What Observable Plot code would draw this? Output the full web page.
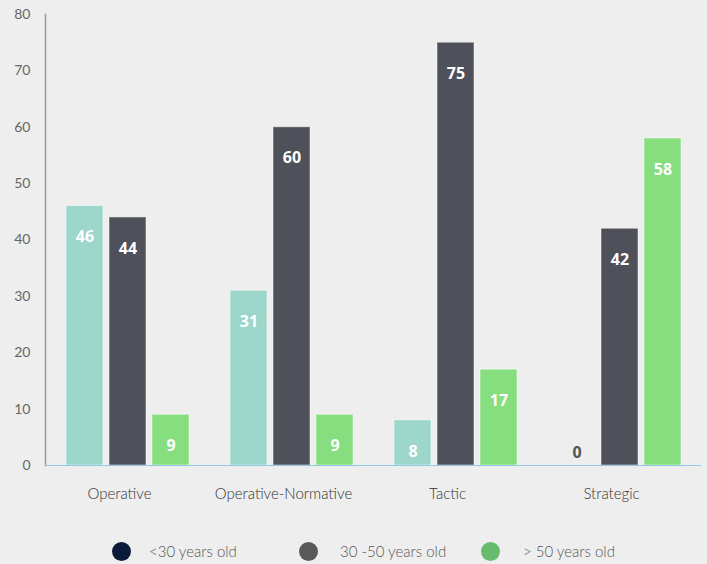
<!DOCTYPE html>
<html>
<head>
<meta charset="utf-8">
<script src="https://cdn.jsdelivr.net/npm/d3@7"></script>
<script src="https://cdn.jsdelivr.net/npm/@observablehq/plot@0.6"></script>
<style>
  html, body { margin: 0; padding: 0; background: #eeeeee; }
  #chart { width: 707px; }
  .legend { display: flex; align-items: center; box-sizing: border-box; height: 44px; padding-top: 18px; padding-left: 112px; font-family: Lato, "Open Sans", sans-serif; font-size: 15px; color: #555; font-weight: 300; }
  .legend .dot { width: 19px; height: 19px; border-radius: 50%; display: inline-block; flex: none; }
  .legend .lab { display: inline-block; white-space: nowrap; }
</style>
</head>
<body>
<div id="chart"></div>
<script>
const categories = ["Operative", "Operative-Normative", "Tactic", "Strategic"];
const series = ["<30 years old", "30 -50 years old", "> 50 years old"];
const under30 = [46, 31, 8, 0];
const from30to50 = [44, 60, 75, 42];
const over50 = [9, 9, 17, 58];
const yTicks = [0, 10, 20, 30, 40, 50, 60, 70, 80];
const barColors = ["#9dd6ca", "#4e5159", "#86de7e"];
const legendColors = ["#0c1a3a", "#58595b", "#66bb6e"];

const seriesValues = [under30, from30to50, over50];
const data = [];
categories.forEach((cat, i) => {
  series.forEach((s, j) => {
    data.push({cat, series: s, value: seriesValues[j][i]});
  });
});

const valueStyle = {fx: "cat", x: "series", y: "value", text: d => String(d.value),
  fontSize: 16, fontWeight: "bold", fontFamily: "'Open Sans', sans-serif"};

const chart = Plot.plot({
  width: 707,
  height: 520,
  marginLeft: 45,
  marginRight: 6,
  marginTop: 14,
  marginBottom: 55,
  style: {background: "#eeeeee", fontFamily: "Lato, 'Open Sans', sans-serif", overflow: "visible"},
  fx: {domain: categories, padding: 0, label: null},
  x: {domain: series, paddingInner: 0.15, paddingOuter: 0.45, axis: null},
  y: {domain: [0, 80], label: null},
  color: {domain: series, range: barColors},
  marks: [
    Plot.axisY({ticks: yTicks, tickSize: 0, tickPadding: 15, label: null, fontSize: 14, fill: "#666", facetAnchor: "left"}),
    Plot.axisFx({anchor: "bottom", tickSize: 0, tickPadding: 23, dx: -8, label: null, fontSize: 15, fontWeight: 300, fill: "#333"}),
    Plot.frame({anchor: "left", facetAnchor: "left", stroke: "#9a9b9f", strokeWidth: 1.5}),
    Plot.barY(data, {fx: "cat", x: "series", y: "value", fill: "series", stroke: "#ffffff", strokeOpacity: 0.5}),
    Plot.ruleY([0], {stroke: "#8ecae6", strokeWidth: 1.2}),
    Plot.text(data.filter(d => d.value !== 0), {...valueStyle, dy: 31, fill: "#ffffff"}),
    Plot.text(data.filter(d => d.value === 0), {...valueStyle, dy: -13, fill: "#555555"})
  ]
});
document.getElementById("chart").appendChild(chart);

const legend = document.createElement("div");
legend.className = "legend";
const labelGap = [18, 22, 23];
const labelWidth = [150, 141, 120];
series.forEach((s, j) => {
  const dot = document.createElement("span");
  dot.className = "dot";
  dot.style.background = legendColors[j];
  const lab = document.createElement("span");
  lab.className = "lab";
  lab.style.marginLeft = labelGap[j] + "px";
  lab.style.width = labelWidth[j] + "px";
  lab.textContent = s;
  legend.appendChild(dot);
  legend.appendChild(lab);
});
document.getElementById("chart").appendChild(legend);
</script>
</body>
</html>
